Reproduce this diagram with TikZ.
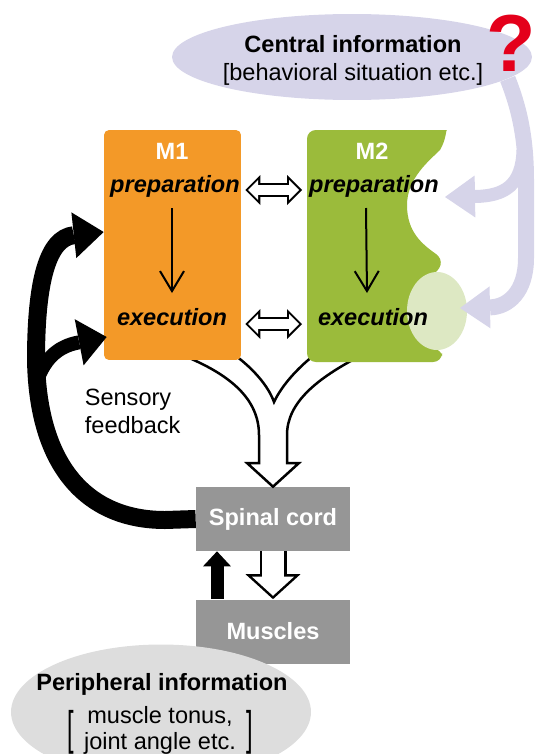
\documentclass[tikz,border=0pt]{standalone}
\usepackage{fontspec}
\setmainfont{Liberation Sans}
\usepackage{graphicx}
\usepackage{tikz}
\usetikzlibrary{arrows.meta,shapes.geometric,calc}

\definecolor{mone}{RGB}{243,153,40}
\definecolor{mtwo}{RGB}{155,187,59}
\definecolor{mtwolight}{RGB}{221,232,195}
\definecolor{lav}{RGB}{214,212,233}
\definecolor{boxgray}{RGB}{150,150,150}
\definecolor{periph}{RGB}{221,221,221}
\definecolor{qred}{RGB}{228,0,27}

\newcommand{\lbsize}{\fontsize{13.4}{15.5}\selectfont}
\newcommand{\tallbr}[1]{\raisebox{-0.3em}{\scalebox{1}[2]{#1}}}

\begin{document}
\begin{tikzpicture}[x=0.02cm,y=-0.02cm,
  txt/.style={font=\lbsize, inner sep=2pt},
  phase/.style={font=\lbsize\bfseries\itshape, inner sep=2pt, anchor=base},
  mlabel/.style={font=\lbsize\bfseries, text=white, anchor=base},
  graybox/.style={fill=boxgray, minimum width=3.08cm, minimum height=1.28cm, font=\lbsize\bfseries, text=white},
  hollowout/.style={line width=0.28cm, {Triangle[length=0.3cm,width=0.6cm,line width=0pt]}-{Triangle[length=0.3cm,width=0.6cm,line width=0pt]}, shorten <=0.08cm, shorten >=0.1cm},
  hollowin/.style={white, line width=0.2cm, {Triangle[length=0.2cm,width=0.4cm,line width=0pt]}-{Triangle[length=0.2cm,width=0.4cm,line width=0pt]}, shorten <=0.136cm, shorten >=0.156cm},
  flow/.style={line width=0.04cm, -{Straight Barb[length=0.4cm,width=0.48cm]}},
  lavarrow/.style={lav, -{Triangle[length=0.6cm,width=0.84cm,line width=0pt]}},
  feedback/.style={black, -{Triangle[length=0.6cm,width=0.92cm,line width=0pt]}}]

\useasboundingbox (0,0) rectangle (535,754);

% central information
\node[ellipse, fill=lav, minimum width=7.2cm, minimum height=1.72cm] (central) at (352,57) {};
\node[txt, align=center, font=\fontsize{13.4}{16}\selectfont] (centraltxt) at (353,60) {\textbf{Central information}\\{[}behavioral situation etc.{]}};

% spinal cord and muscles
\node[graybox] (spinal) at (273,519) {Spinal cord};
\node[graybox] (muscles) at (273,631.5) {Muscles};

% output of M1 and M2
\filldraw[fill=white, draw=black, line width=0.05cm, line join=miter]
  (182,355) .. controls (232,375) and (259,400) .. (259,435) -- (259,463) -- (247,463) -- (spinal.north)
  -- (299,463) -- (287,463) -- (287,435) .. controls (287,402) and (318,378) .. (360,356)
  -- (313,356) .. controls (298,368) and (282,385) .. (274,402)
  .. controls (268,385) and (252,368) .. (236,356) -- cycle;

% M1 and M2
\node[fill=mone, rounded corners=0.1cm, minimum width=2.74cm, minimum height=4.6cm] (m1) at (172.5,245) {};
\fill[mtwo, rounded corners=5] (307,362) -- (307,130) -- (438,130) [sharp corners]
  .. controls (446,130) and (446,140) .. (440,150) .. controls (430,160) and (407,178) .. (407,205)
  .. controls (407,232) and (422,244) .. (436,254) .. controls (444,260) and (442,270) .. (430,276)
  -- (420,282) -- (420,340) .. controls (430,346) and (442,350) .. (442,356) [rounded corners=5] -- (442,362) -- cycle;
\fill[mtwolight] (437,311) ellipse [x radius=0.6cm, y radius=0.78cm];
\coordinate (m2w) at (307,245);

% central input
\coordinate (m2in1) at (445,197);
\coordinate (m2in2) at (460,308);
\coordinate (lavsplit) at (523,150);
\draw[lavarrow, line width=0.32cm] (central.-8) .. controls (520,110) and (526,140) .. (526,180) -- (526,258) .. controls (526,292) and (508,307) .. (m2in2);
\draw[lavarrow, line width=0.26cm] (lavsplit) .. controls (522,185) and (505,196) .. (m2in1);
\node[text=qred, font=\fontsize{46}{46}\selectfont\bfseries, inner sep=0pt] (quest) at (511,43) {?};

\node[mlabel] (m1lbl) at (172,159) {M1};
\node[phase] (m1prep) at (175,192) {preparation};
\node[phase] (m1exec) at (172,325) {execution};
\node[mlabel] (m2lbl) at (372,159) {M2};
\node[phase] (m2prep) at (374,192) {preparation};
\node[phase] (m2exec) at (373,325) {execution};

\draw[flow] ($(m1prep.base)+(-3,16)$) -- ($(m1exec.base)+(0,-32)$);
\draw[flow] ($(m2prep.base)+(-8,16)$) -- ($(m2exec.base)+(-6,-32)$);

\foreach \y in {190,324}{
\draw[hollowout] ($(m1.east)+(0,\y-245)$) -- ($(m2w)+(0,\y-245)$);
\draw[hollowin] ($(m1.east)+(0,\y-245)$) -- ($(m2w)+(0,\y-245)$);}

% spinal cord <-> muscles
\draw[line width=0.54cm, -{Triangle[length=0.5cm,width=1.1cm,line width=0pt]}] (spinal.south) -- (muscles.north);
\draw[white, line width=0.44cm, -{Triangle[length=0.382cm,width=0.84cm,line width=0pt]}, shorten >=0.068cm] (spinal.south) -- (muscles.north);
\draw[line width=0.26cm, -{Triangle[length=0.3cm,width=0.56cm,line width=0pt]}] ($(muscles.north)+(-56,0)$) -- ($(spinal.south)+(-56,0)$);

% sensory feedback
\coordinate (m1in1) at ($(m1.west)+(0,-13)$);
\coordinate (m1in2) at ($(m1.west)+(3,92)$);
\draw[feedback, line width=0.36cm] (spinal.west) -- (165,520) .. controls (90,520) and (38,470) .. (36,360) .. controls (36,280) and (48,238) .. (m1in1);
\draw[feedback, line width=0.28cm, -{Triangle[length=0.56cm,width=0.94cm,line width=0pt]}] (38,378) .. controls (48,352) and (65,345) .. (m1in2);
\node[txt, align=left, anchor=base west] (sensory) at (81,433) {Sensory\\feedback};

% peripheral information
\node[ellipse, fill=periph, minimum width=6cm, minimum height=2.7cm] (periph) at (161,712) {};
\node[txt, font=\lbsize\bfseries, anchor=base] (periphtitle) at (162,690) {Peripheral information};
\node[txt] (periphsub) at (160,731) {\tallbr{[}\def\arraystretch{0.95}\begin{tabular}{c}muscle tonus,\\ joint angle etc.\end{tabular}\tallbr{]}};

\end{tikzpicture}
\end{document}
